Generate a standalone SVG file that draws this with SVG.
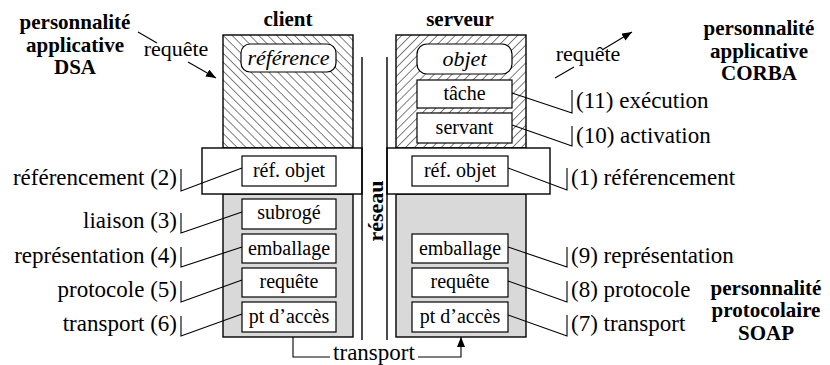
<svg xmlns="http://www.w3.org/2000/svg" width="830" height="365" viewBox="0 0 830 365">
<defs>
<pattern id="hatchC" patternUnits="userSpaceOnUse" width="6.3" height="10" patternTransform="rotate(-45)">
<line x1="0" y1="-1" x2="0" y2="11" stroke="#000" stroke-width="1"/>
</pattern>
<pattern id="hatchS" patternUnits="userSpaceOnUse" width="6.3" height="10" patternTransform="rotate(45)">
<line x1="0" y1="-1" x2="0" y2="11" stroke="#000" stroke-width="1"/>
</pattern>
<marker id="arr" markerWidth="10" markerHeight="8" refX="10" refY="4" orient="auto" markerUnits="userSpaceOnUse">
<path d="M0,0 L10,4 L0,8 z" fill="#000"/>
</marker>
</defs>
<style>
.big{font-size:21px;font-weight:bold;text-anchor:middle}
.box{font-size:20px;text-anchor:middle}
.it{font-size:22px;font-style:italic;text-anchor:middle}
.lblL{font-size:23px;text-anchor:end}
.lblR{font-size:23px;text-anchor:start}
.req{font-size:22px;text-anchor:middle}
.mid{font-size:23px;text-anchor:middle}
.frame{stroke:#000;stroke-width:1.4}
.ib{fill:#fff;stroke:#000;stroke-width:1.2}
.ln{fill:none;stroke:#000;stroke-width:1.1}
</style>
<g font-family="Liberation Serif, Times New Roman, Times, serif" fill="#000">
<g id="title-dsa">
<text class="big" x="75" y="29">personnalité</text>
<text class="big" x="75" y="51.5">applicative</text>
<text class="big" x="75" y="74">DSA</text>
</g>
<g id="title-corba">
<text class="big" x="759" y="35">personnalité</text>
<text class="big" x="759" y="57.5">applicative</text>
<text class="big" x="759" y="80">CORBA</text>
</g>
<g id="title-soap">
<text class="big" x="766" y="294.5">personnalité</text>
<text class="big" x="766" y="317">protocolaire</text>
<text class="big" x="766" y="339.5">SOAP</text>
</g>

<g id="client">
<text class="big" x="288" y="26">client</text>
<rect class="frame" x="223" y="35" width="130" height="113" fill="url(#hatchC)"/>
<rect class="frame" x="223" y="194" width="130" height="143" fill="#d9d9d9"/>
<rect class="frame" x="202" y="148" width="160" height="46" fill="#fff"/>
</g>
<g id="client-reference">
<rect class="ib" x="241" y="44" width="95" height="28" rx="9"/>
<text class="it" x="288.5" y="65">référence</text>
</g>
<g id="client-refobjet"><rect class="ib" x="242" y="156" width="94" height="30"/><text class="box" x="289" y="177">réf. objet</text></g>
<g id="client-subroge"><rect class="ib" x="242" y="199" width="94" height="30"/><text class="box" x="289" y="219">subrogé</text></g>
<g id="client-emballage"><rect class="ib" x="242" y="234" width="94" height="29"/><text class="box" x="289" y="255">emballage</text></g>
<g id="client-requete"><rect class="ib" x="242" y="268" width="94" height="29"/><text class="box" x="289" y="288">requête</text></g>
<g id="client-acces"><rect class="ib" x="242" y="302" width="94" height="30"/><text class="box" x="289" y="323">pt d’accès</text></g>

<g id="serveur">
<text class="big" x="460" y="26">serveur</text>
<rect class="frame" x="396" y="35" width="130" height="113" fill="url(#hatchS)"/>
<rect class="frame" x="396" y="194" width="130" height="143" fill="#d9d9d9"/>
<rect class="frame" x="387" y="148" width="163" height="46" fill="#fff"/>
</g>
<g id="serveur-objet">
<rect class="ib" x="417" y="44" width="95" height="30" rx="10"/>
<text class="it" x="464.5" y="66">objet</text>
</g>
<g id="serveur-tache"><rect class="ib" x="417" y="80" width="95" height="28"/><text class="box" x="464.5" y="100">tâche</text></g>
<g id="serveur-servant"><rect class="ib" x="417" y="113" width="95" height="30"/><text class="box" x="464.5" y="134">servant</text></g>
<g id="serveur-refobjet"><rect class="ib" x="412" y="156" width="96" height="30"/><text class="box" x="460" y="177">réf. objet</text></g>
<g id="serveur-emballage"><rect class="ib" x="412" y="234" width="96" height="29"/><text class="box" x="460" y="255">emballage</text></g>
<g id="serveur-requete"><rect class="ib" x="412" y="268" width="96" height="29"/><text class="box" x="460" y="288">requête</text></g>
<g id="serveur-acces"><rect class="ib" x="412" y="302" width="96" height="30"/><text class="box" x="460" y="323">pt d’accès</text></g>

<g id="reseau">
<line class="frame" x1="362" y1="57" x2="362" y2="340"/>
<line class="frame" x1="387" y1="57" x2="387" y2="340"/>
<text class="big" style="font-size:22px" transform="translate(383,211) rotate(-90)" x="0" y="0">réseau</text>
</g>

<g id="labels-left">
<text class="lblL" x="177" y="185">référencement (2)</text>
<text class="lblL" x="177" y="228">liaison (3)</text>
<text class="lblL" x="177" y="262.5">représentation (4)</text>
<text class="lblL" x="177" y="296.5">protocole (5)</text>
<text class="lblL" x="177" y="331">transport (6)</text>
</g>
<g id="labels-right">
<text class="lblR" x="576" y="108">(11) exécution</text>
<text class="lblR" x="576" y="143">(10) activation</text>
<text class="lblR" x="571" y="185">(1) référencement</text>
<text class="lblR" x="571" y="262.5">(9) représentation</text>
<text class="lblR" x="571" y="296.5">(8) protocole</text>
<text class="lblR" x="571" y="331">(7) transport</text>
</g>
<g id="requete-labels">
<text class="req" x="176" y="56">requête</text>
<text class="req" x="588" y="61">requête</text>
<text class="mid" x="374" y="360">transport</text>
</g>
</g>
<g id="connectors">
<path class="ln" d="M181,169 V191 L242,168"/>
<path class="ln" d="M181,213 V233 L242,212"/>
<path class="ln" d="M181,247 V267 L242,247"/>
<path class="ln" d="M181,281 V302 L242,280"/>
<path class="ln" d="M181,316 V336 L242,314"/>
<path class="ln" d="M567,168 V190 L508,168"/>
<path class="ln" d="M567,247 V267 L508,247"/>
<path class="ln" d="M567,281 V302 L508,281"/>
<path class="ln" d="M567,315 V336 L508,315"/>
<path class="ln" d="M572,90 V113 L512,93"/>
<path class="ln" d="M572,126 V146 L512,125"/>
<line class="ln" x1="138" y1="32" x2="157" y2="43"/>
<line class="ln" x1="188" y1="62" x2="216" y2="78" marker-end="url(#arr)"/>
<line class="ln" x1="555" y1="78" x2="574" y2="67"/>
<line class="ln" x1="602" y1="50" x2="632" y2="32" marker-end="url(#arr)"/>
<path class="ln" d="M293,337 V357 H330"/>
<path class="ln" d="M418,357 H461 V337" marker-end="url(#arr)"/>
</g>
</svg>
